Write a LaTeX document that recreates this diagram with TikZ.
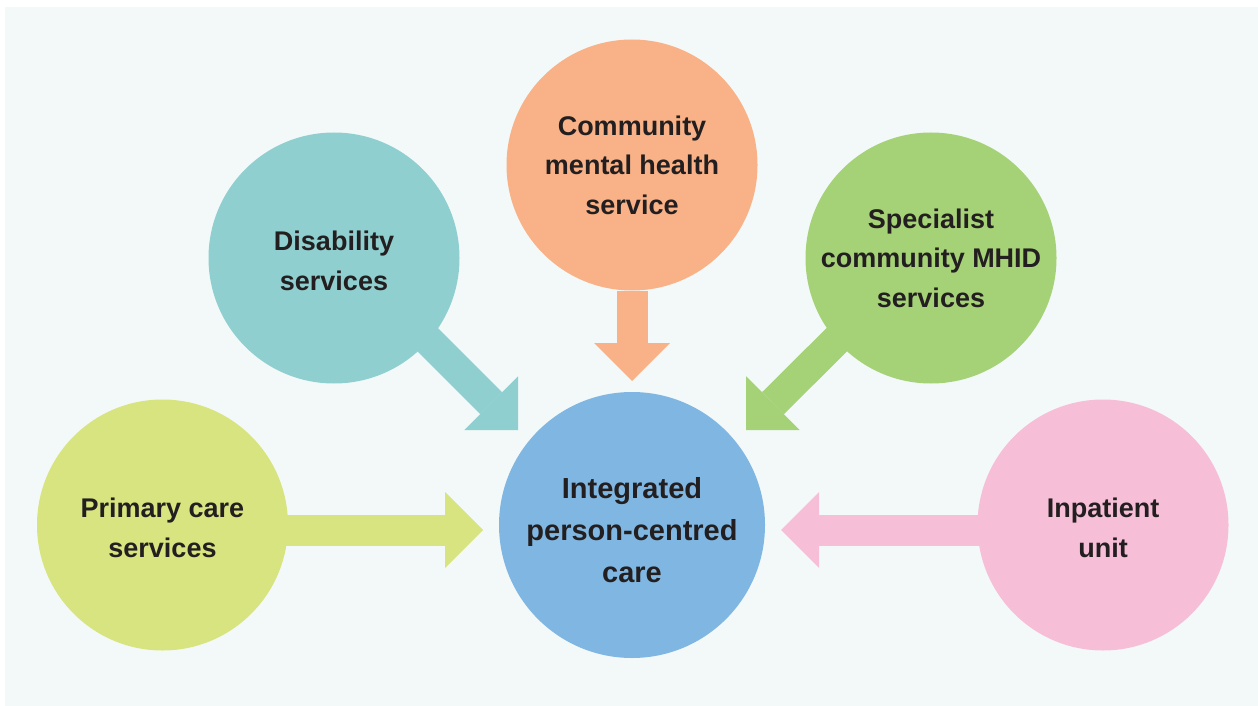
\documentclass[tikz,border=0pt]{standalone}
\usepackage{fontspec}
\setmainfont{Liberation Sans}
\usepackage{xcolor}
\usepackage{tikz}
\usetikzlibrary{arrows.meta, positioning, calc, backgrounds}

\definecolor{panelbg}{HTML}{F3F9F9}
\definecolor{inktext}{HTML}{231F20}
\definecolor{careblue}{HTML}{80B7E2}
\definecolor{disteal}{HTML}{90CFCF}
\definecolor{cmhorange}{HTML}{F9B287}
\definecolor{mhidgreen}{HTML}{A6D277}
\definecolor{primlime}{HTML}{D8E47F}
\definecolor{inppink}{HTML}{F7BFD7}

\tikzset{
  service/.style={circle, fill=#1, minimum size=251pt, inner sep=0pt, align=center,
    text=inktext, font=\fontsize{27}{39.5}\selectfont\bfseries},
  flow/.style={draw=#1, line width=31pt,
    -{Triangle[width=76pt, length=38pt, line width=0pt]}}
}

\begin{document}
\begin{tikzpicture}[x=1pt, y=-1pt]
  \useasboundingbox (0,0) rectangle (1258,706);

  % Centre circle and the five services round it
  \node[service=careblue, minimum size=266pt, text height=115pt,
    font=\fontsize{29}{42}\selectfont\bfseries]
    (care) at (632,525) {Integrated\\person-centred\\care};
  \node[service=disteal, text height=65pt] (dis) at (334,258) {Disability\\services};
  \node[service=cmhorange] (cmh) at (632,165) {Community\\mental health\\service};
  \node[service=mhidgreen] (mhid) at (931,258) {Specialist\\community MHID\\services};
  \node[service=primlime, text height=65pt] (prim) at (162.5,525) {Primary care\\services};
  \node[service=inppink, text height=65pt] (inp) at (1103,525) {Inpatient\\unit};

  % Arrow tips, just short of the centre
  \coordinate (disTip) at (518,430);
  \coordinate (cmhTip) at (632,381);
  \coordinate (mhidTip) at (746,430);
  \coordinate (primTip) at (483,530);
  \coordinate (inpTip) at (781,530);

  \begin{scope}[on background layer]
    \fill[panelbg] (5,7) rectangle (1258,706);
    % Arrows start behind the circles
    \draw[flow=disteal] ([xshift=6pt, yshift=6pt]dis.center) -- (disTip);
    \draw[flow=cmhorange] (cmh) -- (cmhTip);
    \draw[flow=mhidgreen] ([xshift=-6pt, yshift=6pt]mhid.center) -- (mhidTip);
    \draw[flow=primlime] (prim |- primTip) -- (primTip);
    \draw[flow=inppink] (inp |- inpTip) -- (inpTip);
  \end{scope}
\end{tikzpicture}
\end{document}
